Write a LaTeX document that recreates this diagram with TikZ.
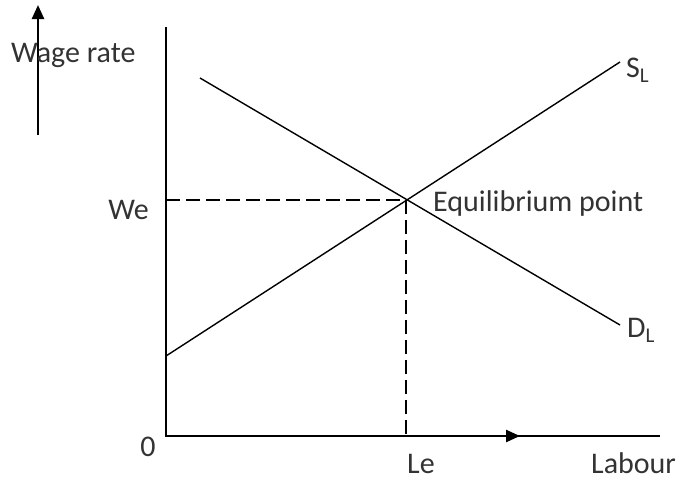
\documentclass[tikz,border=0pt]{standalone}
\usepackage{fontspec}
\setmainfont{Carlito}
\usetikzlibrary{arrows.meta}
\begin{document}
\begin{tikzpicture}[x=1pt,y=-1pt,
  curve/.style={line width=1.4pt,black},
  axis/.style={line width=1.6pt,black},
  guide/.style={line width=1.4pt,dash pattern=on 14pt off 6pt},
  dirarrow/.style={line width=2.4pt,-{Triangle[length=14pt,width=12pt]}},
  lbl/.style={font=\fontsize{30}{32}\selectfont,text=black!80,inner sep=0pt}]
\useasboundingbox (0,0) rectangle (685,482);
% axes
\coordinate (O) at (166,436);
\coordinate (Ytop) at (166,27);
\coordinate (Xend) at (660,436);
\draw[axis] (Ytop) -- (O) -- (Xend);
% curves
\coordinate (S0) at (166,356);
\coordinate (S1) at (620,62);
\coordinate (D0) at (200,78);
\coordinate (D1) at (620,325);
\coordinate (E) at (406,200);
\coordinate (Ey) at (166,200);
\coordinate (Ex) at (406,436);
\draw[curve] (S0) -- (S1);
\draw[curve] (D0) -- (D1);
\draw[guide] (Ey) -- (E) -- (Ex);
% direction arrows
\coordinate (A0) at (38,135);
\coordinate (A1) at (38,5);
\draw[dirarrow] (A0) -- (A1);
\coordinate (B0) at (430,436);
\coordinate (B1) at (520,436);
\draw[dirarrow] (B0) -- (B1);
% labels
\node[lbl,anchor=west] (wr) at (11,55) {Wage rate};
\node[lbl,anchor=east] (we) at (149,210) {We};
\node[lbl,anchor=west] (eq) at (433,203) {Equilibrium point};
\node[lbl,anchor=west] (sl) at (626,70) {S\textsubscript{L}};
\node[lbl,anchor=west] (dl) at (627,330) {D\textsubscript{L}};
\node[lbl] (zero) at (148,447) {0};
\node[lbl,anchor=west] (le) at (407,464) {Le};
\node[lbl,anchor=west] (lab) at (591,463) {Labour};
\end{tikzpicture}
\end{document}
